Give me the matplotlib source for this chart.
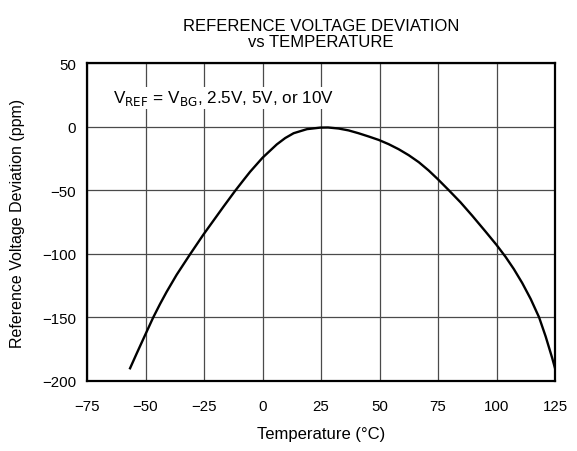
import matplotlib.pyplot as plt

plt.rcParams["font.family"] = ["Liberation Sans", "DejaVu Sans"]

# Curve
temperature = [-56.6, -53.8, -50.2, -46.7, -43.8, -41, -36.7, -31, -25.3, -16.7,
               -14.1, -11.7, -8.1, -5.3, 0, 6.1, 9.7, 13.3, 19, 24.7, 28, 32.5,
               36.8, 41, 45.4, 49.7, 53.9, 58.2, 62.5, 66.8, 71, 74.9, 79.6, 84.6,
               89.6, 95.3, 100, 103.9, 107.4, 111, 114.6, 118.2, 121, 123.8, 125]
deviation = [-190, -178.5, -164, -150, -139.5, -130, -116.5, -100.5, -85, -63,
             -56.5, -50.5, -42, -35.5, -24.5, -14, -9, -5.2, -2, -0.8, -0.7, -1.5,
             -3, -5.2, -7.8, -10.5, -13.8, -17.8, -22.5, -28, -34.5, -41.3, -50, -59.5,
             -70, -82.5, -93, -102.5, -112, -123, -135.5, -150, -165, -182, -190]

x_ticks = [-75, -50, -25, 0, 25, 50, 75, 100, 125]
y_ticks = [50, 0, -50, -100, -150, -200]

fig = plt.figure(figsize=(5.77, 4.52), dpi=100)
ax = fig.add_axes([0.1508, 0.1549, 0.8111, 0.7035])

ax.plot(temperature, deviation, color="black", lw=1.7, solid_joinstyle="round",
        zorder=3)

ax.set_xlim(-75, 125)
ax.set_ylim(-200, 50)
ax.set_xticks(x_ticks)
ax.set_yticks(y_ticks)
ax.grid(True, color="#4a4a4a", lw=0.9)
ax.set_axisbelow(True)
ax.tick_params(length=0, labelsize=10.8)
ax.tick_params(axis="x", pad=13)
ax.tick_params(axis="y", pad=8)
for s in ax.spines.values():
    s.set_linewidth(1.6)

ax.set_xlabel("Temperature (°C)", fontsize=12, labelpad=9)
ax.set_ylabel("Reference Voltage Deviation (ppm)", fontsize=11.5, labelpad=12)
ax.set_title("REFERENCE VOLTAGE DEVIATION\nvs TEMPERATURE", fontsize=12,
             pad=12, linespacing=1.1)

ax.text(-64, 22.5, r"V$_{\rm REF}$ = V$_{\rm BG}$, 2.5V, 5V, or 10V", fontsize=12.3,
        va="center", ha="left",
        bbox=dict(facecolor="white", edgecolor="none", pad=1), zorder=2)

fig.savefig("out.png", dpi=100)
